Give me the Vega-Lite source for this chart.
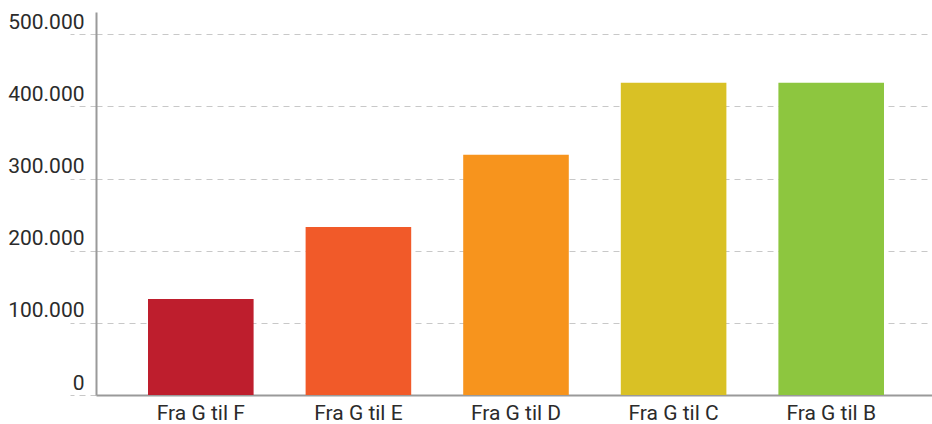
{
  "$schema": "https://vega.github.io/schema/vega-lite/v6.json",
  "autosize": {"type": "none"},
  "width": 840,
  "height": 383,
  "padding": {"left": 96, "top": 12, "right": 0, "bottom": 29},
  "background": "white",
  "data": {
    "values": [
      {"kategori": "Fra G til F", "verdi": 133000, "farge": "#be1e2d"},
      {"kategori": "Fra G til E", "verdi": 233000, "farge": "#f15a29"},
      {"kategori": "Fra G til D", "verdi": 333000, "farge": "#f7941d"},
      {"kategori": "Fra G til C", "verdi": 433000, "farge": "#d9c125"},
      {"kategori": "Fra G til B", "verdi": 433000, "farge": "#8dc63f"}
    ]
  },
  "mark": {"type": "bar"},
  "encoding": {
    "x": {
      "field": "kategori",
      "type": "nominal",
      "sort": null,
      "scale": {"paddingInner": 0.33, "paddingOuter": 0.33},
      "axis": {
        "title": null,
        "labelAngle": 0,
        "ticks": false,
        "labelPadding": 7,
        "labelFont": "Roboto",
        "labelFontSize": 21,
        "labelColor": "#2b2b2b",
        "domainColor": "#9a9a9a",
        "domainWidth": 2
      }
    },
    "y": {
      "field": "verdi",
      "type": "quantitative",
      "scale": {"domain": [0, 531000], "nice": false},
      "axis": {
        "title": null,
        "values": [0, 100000, 200000, 300000, 400000, 500000],
        "labelExpr": "replace(format(datum.value, ','), ',', '.')",
        "labelFont": "Roboto",
        "labelFontSize": 21,
        "labelColor": "#2b2b2b",
        "labelBaseline": "alphabetic",
        "labelOffset": -6,
        "labelPadding": -14,
        "tickSize": 26,
        "tickColor": "#c8c8c8",
        "tickDash": [6, 5],
        "tickWidth": 1,
        "grid": true,
        "gridColor": "#c8c8c8",
        "gridDash": [6, 5],
        "gridWidth": 1,
        "domainColor": "#9a9a9a",
        "domainWidth": 2
      }
    },
    "color": {"field": "farge", "type": "nominal", "scale": null, "legend": null}
  },
  "config": {"view": {"stroke": null}}
}
